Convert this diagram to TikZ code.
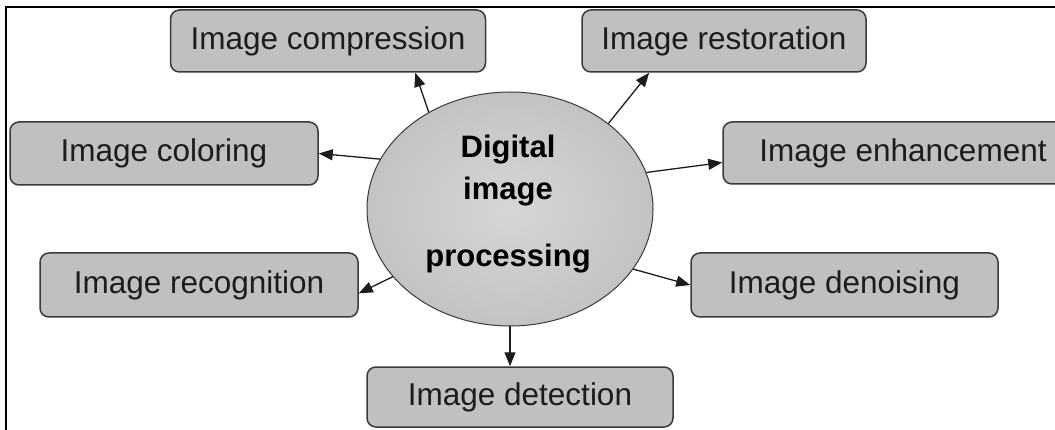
\documentclass[tikz,border=0pt]{standalone}
\usepackage{fontspec}
\setmainfont{Liberation Sans}
\usetikzlibrary{arrows.meta,shapes.geometric}

\definecolor{boxfill}{HTML}{C0C0C0}
\definecolor{boxline}{HTML}{3A3A3A}
\definecolor{inkdark}{HTML}{1C1C1C}
\definecolor{hubcenter}{HTML}{D6D6D6}
\definecolor{hubedge}{HTML}{C3C3C3}

\tikzset{
  topicbox/.style={draw=boxline, fill=boxfill, line width=1.5pt,
    rounded corners=9pt, inner sep=0pt, text=inkdark,
    font=\fontsize{31.5}{38}\selectfont},
  hub/.style={ellipse, draw=boxline, line width=1pt, inner sep=0pt,
    inner color=hubcenter, outer color=hubedge,
    minimum width=286pt, minimum height=234pt},
  hubtext/.style={anchor=base, inner sep=0pt, text=black,
    font=\fontsize{31}{37}\selectfont\bfseries},
  link/.style={draw=inkdark, line width=1.3pt,
    -{Triangle[length=14pt,width=11pt]}},
}

\begin{document}
\begin{tikzpicture}[x=1pt,y=-1pt]
  \useasboundingbox (0,0) rectangle (1055,430);
  \clip (0,0) rectangle (1055,430);

  % outer frame (only its top and left sides fall inside the page)
  \draw[line width=2.5pt, black] (6,7) rectangle (1080,460);

  % central topic
  \node[hub] (dip) at (510,209) {};
  \node[hubtext] (dipa) at (508,158) {Digital};
  \node[hubtext] (dipb) at (508,200) {image};
  \node[hubtext] (dipc) at (508,267) {processing};

  % surrounding topics
  \node[topicbox, minimum width=315pt, minimum height=62pt] (comp) at (328,41) {Image compression};
  \node[topicbox, minimum width=284pt, minimum height=62pt] (rest) at (724,41) {Image restoration};
  \node[topicbox, minimum width=308pt, minimum height=63pt] (col)  at (164,153.5) {Image coloring};
  \node[topicbox, minimum width=360pt, minimum height=62pt] (enh)  at (903,153) {Image enhancement};
  \node[topicbox, minimum width=318pt, minimum height=64pt] (rec)  at (199,285) {Image recognition};
  \node[topicbox, minimum width=307pt, minimum height=64pt] (den)  at (844.5,285) {Image denoising};
  \node[topicbox, minimum width=306pt, minimum height=60pt] (det)  at (520,397) {Image detection};

  % connectors from the hub
  \draw[link] (dip.130.6) -- (comp.-20);
  \draw[link] (dip.41.9)  -- (rest.203.3);
  \draw[link] (dip.159.8) -- (col.east);
  \draw[link] (dip.15)    -- (enh.183.8);
  \draw[link] (dip.210.3) -- (rec.-3.6);
  \draw[link] (dip.334.9) -- (den.west);
  \draw[link] (dip.south) -- (dip.south |- det.north);
\end{tikzpicture}
\end{document}
